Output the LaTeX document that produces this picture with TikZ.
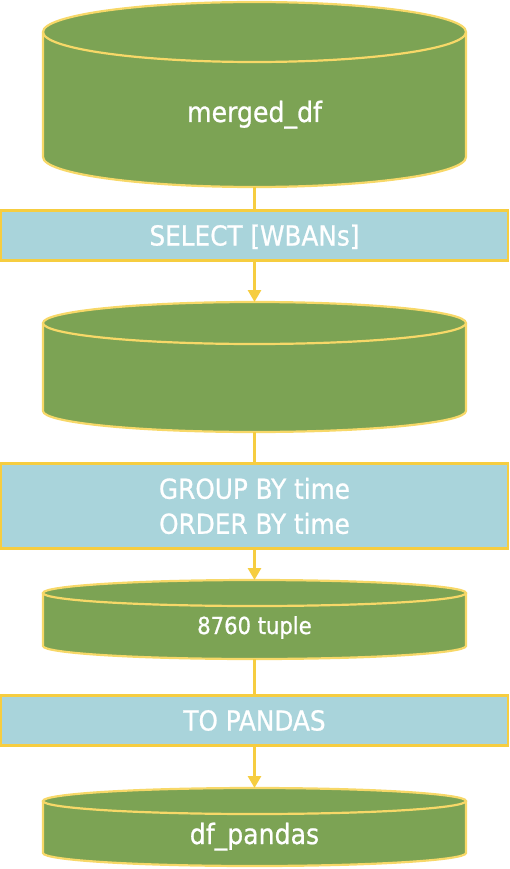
\documentclass[tikz,border=0pt]{standalone}
\usepackage{fontspec}
\setmainfont[FakeBold=0.8]{DejaVu Sans Condensed}
\usetikzlibrary{arrows.meta}
\definecolor{cylgreen}{HTML}{7CA354}
\definecolor{edgeyellow}{HTML}{F6CD40}
\definecolor{rimyellow}{HTML}{F7D868}
\definecolor{boxblue}{HTML}{A9D4DB}
\tikzset{
  cylfill/.style={fill=cylgreen},
  cylline/.style={draw=rimyellow, line width=2.2pt},
  opbox/.style={draw=edgeyellow, fill=boxblue, line width=2.4pt, minimum width=506.6pt,
    inner sep=0pt, outer sep=0pt, text=white, font=\fontsize{27.5}{35}\selectfont, align=center},
  cyltext/.style={text=white, inner sep=0pt, anchor=base},
  hold/.style={draw=none, inner sep=0pt, outer sep=0pt, minimum width=423pt},
  conn/.style={draw=edgeyellow, line width=2.8pt},
  flow/.style={conn, -{Triangle[width=13pt,length=12pt]}}
}
% #1 name, #2 top center y, #3 bottom center y, #4 ry
\newcommand\dbcyl[4]{%
  \fill[cylfill] (43,#2) -- (43,#3) arc[start angle=180,end angle=360,x radius=211.5pt,y radius=#4pt] -- (466,#2) -- cycle;
  \draw[cylline] (43,#2) -- (43,#3) arc[start angle=180,end angle=360,x radius=211.5pt,y radius=#4pt] -- (466,#2);
  \filldraw[cylfill,cylline] (254.5,#2) ellipse [x radius=211.5pt, y radius=#4pt];
  \node[hold, minimum height={(#3-#2+2*#4)*1pt}] (#1) at (254.5,{(#2+#3)/2}) {};
}
\begin{document}
\begin{tikzpicture}[x=1pt,y=-1pt]
\useasboundingbox (0,0) rectangle (509,869);
\dbcyl{c1}{32}{157}{30}
\node[cyltext, font=\fontsize{28}{30}\selectfont] (t1) at (254.5,122) {merged\_df};
\dbcyl{c2}{323}{411}{21}
\dbcyl{c3}{593}{646}{13}
\node[cyltext, font=\fontsize{23.5}{26}\selectfont] (t3) at (254.5,634) {8760 tuple};
\dbcyl{c4}{801}{853}{13}
\node[cyltext, font=\fontsize{28}{30}\selectfont] (t4) at (254.5,844) {df\_pandas};

\node[opbox, minimum height=50pt, text height=20pt, text depth=0pt] (b1) at (254.5,235.5) {SELECT [WBANs]};
\node[opbox, minimum height=85pt] (b2) at (254.5,506) {GROUP BY time\\ORDER BY time};
\node[opbox, minimum height=50pt, text height=20pt, text depth=0pt] (b3) at (254.5,720.5) {TO PANDAS};

\draw[conn] (c1.south) -- (b1.north);
\draw[flow] (b1.south) -- (c2.north);
\draw[conn] (c2.south) -- (b2.north);
\draw[flow] (b2.south) -- (c3.north);
\draw[conn] (c3.south) -- (b3.north);
\draw[flow] (b3.south) -- (c4.north);
\end{tikzpicture}
\end{document}
